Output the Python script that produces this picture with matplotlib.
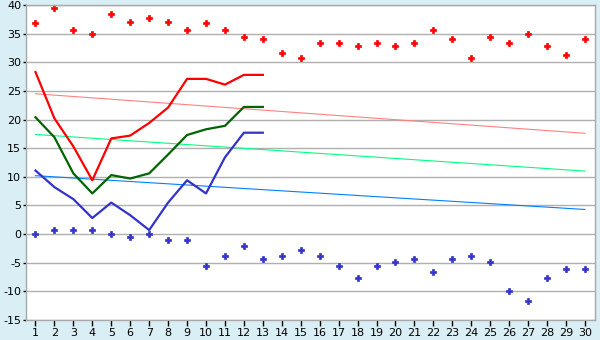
import matplotlib
matplotlib.use('Agg')
import matplotlib.pyplot as plt
import numpy as np

days = list(range(1, 31))

# scattered daily extremes
high_pts = [36.8, 39.4, 35.6, 35.0, 38.4, 37.1, 37.8, 37.1, 35.6, 36.8,
            35.6, 34.4, 34.0, 31.7, 30.7, 33.3, 33.3, 32.8, 33.3, 32.8,
            33.3, 35.6, 34.0, 30.7, 34.4, 33.3, 35.0, 32.8, 31.2, 34.0]
low_pts = [0.0, 0.7, 0.7, 0.7, 0.0, -0.5, 0.0, -1.1, -1.1, -5.6,
           -3.9, -2.1, -4.4, -3.9, -2.8, -3.9, -5.6, -7.7, -5.6, -4.9,
           -4.4, -6.6, -4.4, -3.9, -4.9, -10.0, -11.7, -7.7, -6.1, -6.1]

# observed lines (first 13 days)
obs_days = list(range(1, 14))
obs_high = [28.3, 20.2, 15.3, 9.4, 16.7, 17.2, 19.4, 22.1, 27.1, 27.1, 26.1, 27.8, 27.8]
obs_mean = [20.4, 16.9, 10.6, 7.1, 10.3, 9.7, 10.6, 13.9, 17.3, 18.3, 18.9, 22.2, 22.2]
obs_low = [11.1, 8.2, 6.1, 2.8, 5.5, 3.3, 0.7, 5.5, 9.4, 7.1, 13.4, 17.7, 17.7]

# trend line end points (day 1 and day 30)
trend_days = [1, 30]
trend_high = [24.5, 17.6]
trend_mean = [17.4, 11.0]
trend_low = [10.2, 4.3]

plt.rcParams['axes.unicode_minus'] = False

bg = '#d9eff5'
fig = plt.figure(figsize=(6, 3.4), dpi=100, facecolor=bg)
ax = fig.add_axes([26 / 600, 20 / 340, 569 / 600, 315 / 340])
ax.set_facecolor('white')

ax.set_xlim(0.5, 30.53)
ax.set_ylim(-15, 40)
ax.set_yticks(np.arange(-15, 41, 5))
ax.set_xticks(days)
ax.yaxis.grid(True, color='#b0b0b0', linewidth=1.0)
ax.set_axisbelow(True)

for s in ax.spines.values():
  s.set_color('#a8a8a8')
  s.set_linewidth(1.0)

ax.tick_params(axis='both', colors='black', labelsize=8, width=1)
ax.tick_params(axis='y', length=2.5, pad=1)
ax.tick_params(axis='x', length=4, pad=2)

# trend lines
ax.plot(trend_days, trend_high, color='#ff8080', linewidth=0.8)
ax.plot(trend_days, trend_mean, color='#00ff80', linewidth=0.8)
ax.plot(trend_days, trend_low, color='#0080ff', linewidth=0.8)

# observed lines
ax.plot(obs_days, obs_high, color='#ff0000', linewidth=1.6)
ax.plot(obs_days, obs_mean, color='#006400', linewidth=1.6)
ax.plot(obs_days, obs_low, color='#3333cc', linewidth=1.6)

# scatter points
ax.plot(days, high_pts, linestyle='none', marker='P', markersize=4.2,
        color='#ff0000', markeredgewidth=0.5)
ax.plot(days, low_pts, linestyle='none', marker='P', markersize=4.2,
        color='#3333cc', markeredgewidth=0.5)

fig.savefig('out.png', dpi=100, facecolor=bg)
